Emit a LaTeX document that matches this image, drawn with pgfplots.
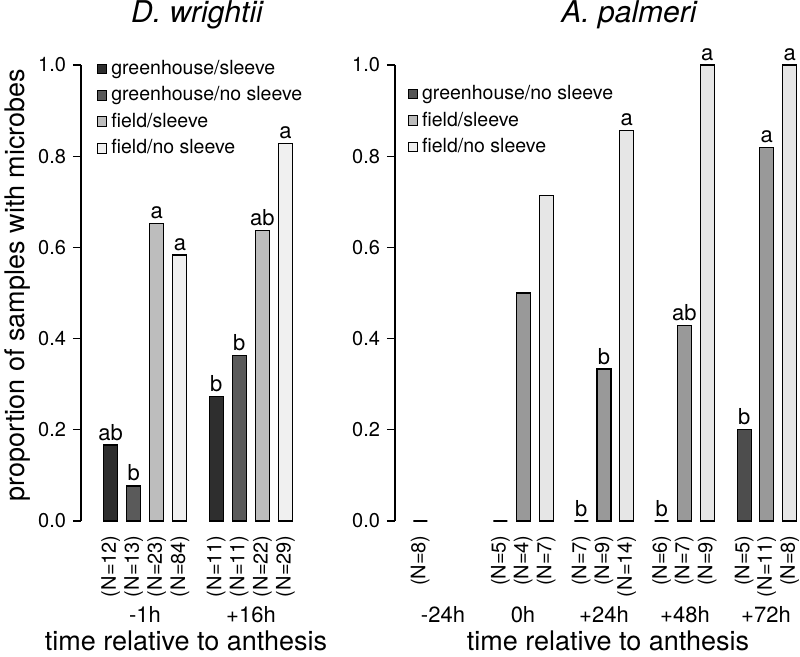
\documentclass[border=0pt]{standalone}
\usepackage{pgfplots}
\pgfplotsset{compat=1.18}
\usepackage{fontspec}
\setmainfont{TeX Gyre Heros}
\definecolor{gsL}{HTML}{2E2E2E}
\definecolor{gnsL}{HTML}{5A5A5A}
\definecolor{fsL}{HTML}{BDBDBD}
\definecolor{fnsL}{HTML}{F0F0F0}
\definecolor{gnsR}{HTML}{4D4D4D}
\definecolor{fsR}{HTML}{999999}
\definecolor{fnsR}{HTML}{E6E6E6}
\definecolor{gnsRl}{HTML}{555555}
\definecolor{fsRl}{HTML}{BBBBBB}
\definecolor{fnsRl}{HTML}{EEEEEE}
\newcommand{\fs}[1]{\fontsize{#1}{#1}\selectfont}
\pgfplotsset{
  panel/.style={
    x=0.5pt, y=228pt, ymin=0, ymax=1, clip=false,
    axis lines*=left,
    x axis line style={draw=none},
    y axis line style={line width=0.6pt},
    ytick={0,0.2,0.4,0.6,0.8,1.0},
    yticklabel style={/pgf/number format/fixed,/pgf/number format/fixed zerofill,/pgf/number format/precision=1, font=\fs{10}},
    /pgf/number format/assume math mode=true,
    tick align=outside, major tick length=4pt,
    ytick style={line width=0.6pt, black},
    xtick style={draw=none},
    xticklabel style={rotate=90, anchor=east, font=\fs{10}, inner sep=3pt},
    legend image code/.code={\draw[#1, line width=0.5pt] (0pt,-2.4pt) rectangle (4.8pt,2.4pt);},
    legend style={draw=none, fill=none, font=\fs{9.75}, row sep=0.6pt, anchor=north west, inner sep=0pt,
      /tikz/every even column/.append style={column sep=0pt}},
    legend cell align=left,
  },
  bars/.style={ybar, bar width=7pt, bar shift=0pt, draw=black, line width=0.6pt, forget plot},
  lett/.style={nodes near coords, point meta=explicit symbolic,
    every node near coord/.append style={font=\fs{11}, text=black, anchor=south, inner sep=2pt}},
}
\begin{document}
\begin{tikzpicture}
\useasboundingbox (0,0) rectangle (400pt,328.5pt);
% ---------------- left panel -----------------
\begin{axis}[panel, at={(40.5pt,68pt)}, anchor=south west, xmin=81, xmax=300,
  xtick={110.6,133.7,156.8,179.9,216.2,239.3,262.4,285.5},
  xticklabels={{(N=12)},{(N=13)},{(N=23)},{(N=84)},{(N=11)},{(N=11)},{(N=22)},{(N=29)}},
  legend style={at={(0.07,1.02)}}]
\addlegendimage{fill=gsL}\addlegendentry{greenhouse/sleeve}
\addlegendimage{fill=gnsL}\addlegendentry{greenhouse/no sleeve}
\addlegendimage{fill=fsL}\addlegendentry{field/sleeve}
\addlegendimage{fill=fnsL}\addlegendentry{field/no sleeve}
\addplot[bars, fill=gsL, lett] coordinates {(110.6,0.1667) [ab] (216.2,0.2727) [b]};
\addplot[bars, fill=gnsL, lett] coordinates {(133.7,0.0769) [b] (239.3,0.3636) [b]};
\addplot[bars, fill=fsL, lett] coordinates {(156.8,0.6522) [a] (262.4,0.6364) [ab]};
\addplot[bars, fill=fnsL, lett] coordinates {(179.9,0.5833) [a] (285.5,0.8276) [a]};
\node[font=\fs{11}] at (axis cs:145,-0.206) {-1h};
\node[font=\fs{11}] at (axis cs:251,-0.206) {+16h};
\node[font=\fs{13.5}] at (axis cs:186,-0.262) {time relative to anthesis};
\node[font=\fs{13.5}, rotate=90] at (axis cs:18,0.5175) {proportion of samples with microbes};
\node[font=\itshape\fs{15}] at (axis cs:197,1.1096) {D. wrightii};
\end{axis}
% ---------------- right panel -----------------
\begin{axis}[panel, at={(197.5pt,68pt)}, anchor=south west, xmin=395, xmax=800,
  xtick={420.3,500.5,523.3,546.3,581.3,604,626.7,661.7,684.3,707.2,744.2,766.8,789.8},
  xticklabels={{(N=8)},{(N=5)},{(N=4)},{(N=7)},{(N=7)},{(N=9)},{(N=14)},{(N=6)},{(N=7)},{(N=9)},{(N=5)},{(N=11)},{(N=8)}},
  legend style={at={(0.03,0.965)}}]
\addlegendimage{fill=gnsRl}\addlegendentry{greenhouse/no sleeve}
\addlegendimage{fill=fsRl}\addlegendentry{field/sleeve}
\addlegendimage{fill=fnsRl}\addlegendentry{field/no sleeve}
\addplot[bars, fill=gnsR] coordinates {(420.3,0) (500.5,0)};
\addplot[bars, fill=gnsR, lett] coordinates {(581.3,0) [b] (661.7,0) [b] (744.2,0.2) [b]};
\addplot[bars, fill=fsR] coordinates {(523.3,0.5)};
\addplot[bars, fill=fsR, lett] coordinates {(604,0.3333) [b] (684.3,0.4286) [ab] (766.8,0.8182) [a]};
\addplot[bars, fill=fnsR] coordinates {(546.3,0.7143)};
\addplot[bars, fill=fnsR, lett] coordinates {(626.7,0.8571) [a] (707.2,1) [a] (789.8,1) [a]};
\node[font=\fs{11}] at (axis cs:443,-0.206) {-24h};
\node[font=\fs{11}] at (axis cs:523,-0.206) {0h};
\node[font=\fs{11}] at (axis cs:604,-0.206) {+24h};
\node[font=\fs{11}] at (axis cs:685,-0.206) {+48h};
\node[font=\fs{11}] at (axis cs:766,-0.206) {+72h};
\node[font=\fs{13.5}] at (axis cs:608,-0.262) {time relative to anthesis};
\node[font=\itshape\fs{15}] at (axis cs:629,1.1096) {A. palmeri};
\end{axis}
\end{tikzpicture}
\end{document}
